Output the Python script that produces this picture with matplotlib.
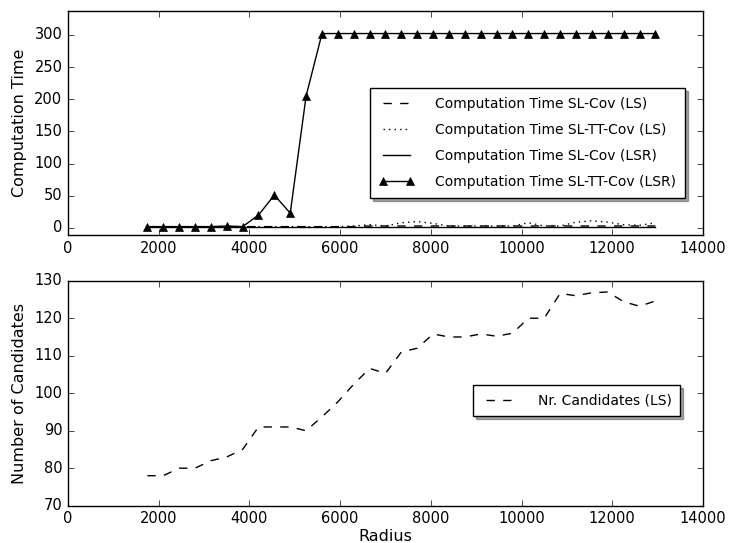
import matplotlib
matplotlib.use("Agg")
import matplotlib.pyplot as plt

plt.style.use('classic')
plt.rcParams['font.family'] = ['DejaVu Sans']
plt.rcParams['figure.facecolor'] = 'white'
plt.rcParams['savefig.facecolor'] = 'white'

radius = [1750, 2100, 2450, 2800, 3150, 3500, 3850, 4200, 4550, 4900, 5250,
          5600, 5950, 6300, 6650, 7000, 7350, 7700, 8050, 8400, 8750, 9100,
          9450, 9800, 10150, 10500, 10850, 11200, 11550, 11900, 12250, 12600, 12950]

time_slcov_ls = [2, 2, 2, 2, 2, 2, 2, 2, 2, 2, 2, 2, 2, 2, 3, 3, 3, 3, 3, 3, 3,
                 3, 3, 3, 3, 3, 3, 3, 3, 3, 3, 3, 3]
time_sltt_ls = [2, 2, 2, 2, 2, 2, 2, 2, 2, 2, 2, 2, 2, 3, 5, 3, 8, 10, 7, 3, 3,
                3, 3, 3, 8, 3, 3, 9, 11, 9, 5, 4, 8]
time_slcov_lsr = [1, 1, 1, 1, 1, 1, 1, 1, 1, 1, 1, 1, 1, 1, 1, 1, 1, 1, 1, 1, 1,
                  1, 1, 1, 1, 1, 1, 1, 1, 1, 1, 1, 1]
time_sltt_lsr = [2, 2, 2, 2, 2, 3, 2, 20, 51, 23, 205, 302, 302, 302, 302, 302,
                 302, 302, 302, 302, 302, 302, 302, 302, 302, 302, 302, 302, 302,
                 302, 302, 302, 302]

candidates_ls = [78, 78, 80, 80, 82, 83, 85, 91, 91, 91, 90, 93.7, 97.7, 102.4,
                 106.6, 105.3, 111, 112, 115.8, 115, 115, 115.8, 115.2, 116,
                 120, 120, 126.6, 126, 126.8, 127, 124.4, 123.2, 124.6]

labels_top = ['Computation Time SL-Cov (LS)', 'Computation Time SL-TT-Cov (LS)',
              'Computation Time SL-Cov (LSR)', 'Computation Time SL-TT-Cov (LSR)']
label_bottom = 'Nr. Candidates (LS)'

fig = plt.figure(figsize=(7.31, 5.43), dpi=100)
ax1 = fig.add_axes([0.093, 0.5672, 0.8687, 0.4125])
ax2 = fig.add_axes([0.093, 0.0687, 0.8687, 0.4143])

ax1.plot(radius, time_slcov_ls, 'k--', lw=1.0, label=labels_top[0])
ax1.plot(radius, time_sltt_ls, 'k:', lw=1.0, label=labels_top[1])
ax1.plot(radius, time_slcov_lsr, 'k-', lw=1.0, label=labels_top[2])
ax1.plot(radius, time_sltt_lsr, 'k-', lw=1.0, marker='^', markersize=6,
         markerfacecolor='k', label=labels_top[3])
ax1.set_xlim(0, 14000)
ax1.set_ylim(-11, 337)
ax1.set_yticks([0, 50, 100, 150, 200, 250, 300])
ax1.set_xticks([0, 2000, 4000, 6000, 8000, 10000, 12000, 14000])
ax1.set_ylabel('Computation Time', fontsize=11.5)
leg1 = ax1.legend(loc='lower right', bbox_to_anchor=(0.9717, 0.165),
                  borderaxespad=0, shadow=True, fancybox=False, fontsize=10,
                  numpoints=2, handlelength=2.55, handletextpad=1.5,
                  labelspacing=0.87, borderpad=0.63)

ax2.plot(radius, candidates_ls, 'k--', lw=1.0, label=label_bottom)
ax2.set_xlim(0, 14000)
ax2.set_ylim(70, 130)
ax2.set_xticks([0, 2000, 4000, 6000, 8000, 10000, 12000, 14000])
ax2.set_yticks([70, 80, 90, 100, 110, 120, 130])
ax2.set_ylabel('Number of Candidates', fontsize=11.5)
ax2.set_xlabel('Radius', fontsize=11.5, labelpad=2)
leg2 = ax2.legend(loc='lower right', bbox_to_anchor=(0.964, 0.399),
                  borderaxespad=0, shadow=True, fancybox=False, fontsize=10,
                  numpoints=2, handlelength=2.55, handletextpad=1.5,
                  borderpad=0.6)

for ax in (ax1, ax2):
    ax.tick_params(labelsize=10.5, direction='in')

fig.savefig('out.png', dpi=100)
